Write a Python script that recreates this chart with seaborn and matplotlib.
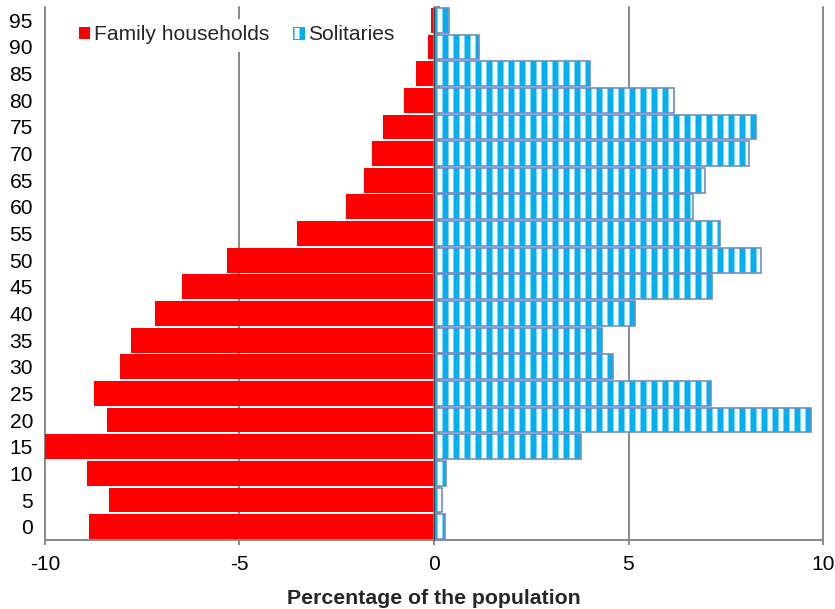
import numpy as np
import pandas as pd
import matplotlib
matplotlib.use('Agg')
import matplotlib.pyplot as plt
from matplotlib.patches import Patch
import seaborn as sns

# age groups (lower bound of 5-year band)
ages = [0, 5, 10, 15, 20, 25, 30, 35, 40, 45, 50, 55, 60, 65, 70, 75, 80, 85, 90, 95]
# percentage of the population, family households on the left (negative)
family = [-8.88, -8.35, -8.91, -9.99, -8.41, -8.73, -8.06, -7.79, -7.16, -6.49,
          -5.31, -3.53, -2.27, -1.79, -1.60, -1.32, -0.77, -0.46, -0.15, -0.07]
solitaries = [0.27, 0.20, 0.31, 3.78, 9.69, 7.13, 4.61, 4.32, 5.17, 7.15,
              8.41, 7.36, 6.66, 6.96, 8.09, 8.28, 6.17, 4.01, 1.15, 0.39]
xticks = [-10, -5, 0, 5, 10]

DPI = 66
def pt(px):
    return px * 72 / DPI

RED = '#FF0000'
BLUE = '#00B0F0'
OUTLINE = '#6A8CC7'
GRID = '#8C8C8C'

sns.set_style('white')
plt.rcParams['font.family'] = ['Liberation Sans', 'DejaVu Sans']
plt.rcParams['hatch.linewidth'] = pt(6)

df = pd.DataFrame({'age': [str(a) for a in ages], 'family': family, 'solitaries': solitaries})
order = list(df['age'])

fig = plt.figure(figsize=(835 / DPI, 609 / DPI), dpi=DPI)
ax = fig.add_axes([45 / 835, 1 - 540 / 609, (823 - 45) / 835, (540 - 7) / 609])

sns.barplot(data=df, x='family', y='age', order=order, orient='h', color=RED,
            saturation=1, width=0.93, linewidth=0, ax=ax, zorder=2)
sns.barplot(data=df, x='solitaries', y='age', order=order, orient='h', color='white',
            saturation=1, width=0.93, edgecolor=BLUE, linewidth=0, hatch='|', ax=ax, zorder=2)
sns.barplot(data=df, x='solitaries', y='age', order=order, orient='h', color=OUTLINE,
            fill=False, saturation=1, width=0.93, linewidth=pt(1.6), ax=ax, zorder=3)

ax.set_ylim(-0.5, 19.5)
ax.set_xlim(-10, 10)
ax.set_xticks(xticks)
ax.set_xticklabels([str(t) for t in xticks])
ax.set_ylabel('')
ax.set_xlabel('Percentage of the population', fontsize=pt(21.3), fontweight='bold', labelpad=pt(15))

# vertical gridlines (the -10 and 10 lines are the plot edges)
for t in xticks:
    if t != 0:
        ax.axvline(t, color=GRID, lw=pt(2), zorder=0, clip_on=False)

for s in ['top', 'right', 'left']:
    ax.spines[s].set_visible(False)
ax.spines['bottom'].set_color(GRID)
ax.spines['bottom'].set_linewidth(pt(2))

ax.tick_params(axis='x', direction='out', length=pt(5), width=pt(2), color=GRID,
               labelsize=pt(21), pad=pt(10), labelcolor='black', bottom=True)
ax.tick_params(axis='y', length=0, labelsize=pt(21), pad=pt(12), labelcolor='black')

# vertical axis line at zero with ticks between age groups
sec = ax.secondary_yaxis(0.5)
sec.set_zorder(4)
sec.spines['left'].set_color(GRID)
sec.spines['left'].set_linewidth(pt(2.5))
sec.set_yticks(np.arange(-0.5, 20, 1))
sec.set_yticklabels([])
sec.tick_params(axis='y', direction='out', length=pt(6), width=pt(2), color=GRID)

handles = [Patch(facecolor=RED, edgecolor=RED, linewidth=0),
           Patch(facecolor='white', edgecolor=BLUE, hatch='|', linewidth=pt(1))]
leg = ax.legend(handles, ['Family households', 'Solitaries'], ncol=2,
                loc='upper left', bbox_to_anchor=(73 / 835, 1 - 19 / 609),
                bbox_transform=fig.transFigure, fontsize=pt(21), frameon=True,
                fancybox=False, borderaxespad=0, borderpad=0.3,
                handlelength=0.52, handleheight=0.48, handletextpad=0.2,
                columnspacing=1.1)
leg.get_frame().set_facecolor('white')
leg.get_frame().set_edgecolor('white')
leg.get_frame().set_alpha(1)

fig.savefig('out.png', dpi=DPI)
